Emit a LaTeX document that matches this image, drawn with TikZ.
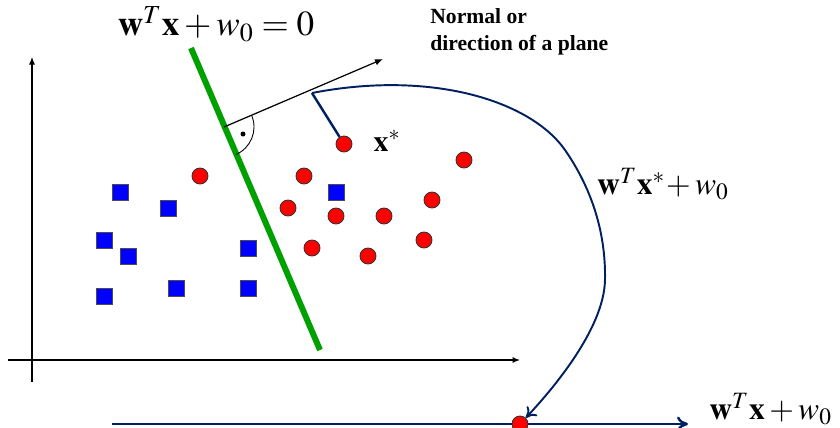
\documentclass[tikz,border=0pt]{standalone}
\usepackage{mathptmx}
\usepackage{fontspec}
\setmainfont{Liberation Serif}[BoldFont={Liberation Serif Bold}]
\usepackage{tikz}
\usetikzlibrary{arrows.meta}
\definecolor{sepgreen}{HTML}{00A000}
\definecolor{navyline}{HTML}{002060}
\definecolor{ptred}{HTML}{FF0000}
\definecolor{ptblue}{HTML}{0000FF}

\begin{document}
\begin{tikzpicture}[x=0.02cm, y=-0.02cm,
  rdot/.style={circle, draw=black!80, fill=ptred, line width=0.5pt, minimum size=0.32cm, inner sep=0pt},
  bsq/.style={rectangle, draw=black!70, fill=ptblue, line width=0.5pt, minimum size=0.32cm, inner sep=0pt},
  axis/.style={line width=0.6pt, -{Latex[length=1.5mm, width=1.2mm]}},
  navy/.style={draw=navyline, line width=1.4pt},
  eqn/.style={inner sep=0pt}]
\useasboundingbox (0,0) rectangle (840,427);
% axes
\coordinate (xa) at (8,360);
\coordinate (xb) at (520,360);
\coordinate (ya) at (32,382);
\coordinate (yb) at (32,57);
\draw[axis] (xa) -- (xb);
\draw[axis] (ya) -- (yb);
% separating plane
\coordinate (gtop) at (191,48);
\coordinate (gbot) at (320,350);
\draw[sepgreen, line width=3.4pt] (gtop) -- (gbot);
% normal
\coordinate (foot) at (224,127);
\coordinate (ntip) at (383,59);
\draw[line width=0.7pt, -{Latex[length=1.6mm, width=1.3mm]}] (foot) -- (ntip);
\draw[line width=0.5pt] (foot) ++(-22.9:30) arc[start angle=-22.9, end angle=66.9, radius=30];
\fill (243,134) circle (0.05cm);
% class 1
\node[bsq] (b1) at (120,192) {};
\node[bsq] (b2) at (168,208) {};
\node[bsq] (b3) at (104,240) {};
\node[bsq] (b4) at (128,256) {};
\node[bsq] (b5) at (104,296) {};
\node[bsq] (b6) at (176,288) {};
\node[bsq] (b7) at (248,248) {};
\node[bsq] (b8) at (248,288) {};
\node[bsq] (b9) at (336,192) {};
% class 2
\node[rdot] (r1) at (200,176) {};
\node[rdot] (r2) at (304,176) {};
\node[rdot] (r3) at (288,208) {};
\node[rdot] (r4) at (336,216) {};
\node[rdot] (r5) at (384,216) {};
\node[rdot] (r6) at (432,200) {};
\node[rdot] (r7) at (464,160) {};
\node[rdot] (r8) at (312,248) {};
\node[rdot] (r9) at (368,256) {};
\node[rdot] (r10) at (424,240) {};
% projection line
\coordinate (lstart) at (112,424);
\coordinate (lend) at (688,424);
\draw[navy, -{To[length=2.2mm, width=3mm]}] (lstart) -- (lend);
\node[rdot] (proj) at (520,424) {};
% x* and its mapping
\coordinate (bend) at (312,93);
\node[rdot] (xs) at (344,144) {};
\draw[navy] (xs) -- (bend);
\draw[navy, line width=1.1pt, -{To[length=2mm, width=2.8mm]}] (bend) .. controls (430,70) and (530,100) .. (565,150)
  .. controls (590,186) and (606,230) .. (605,280)
  .. controls (604,330) and (550,392) .. (proj);
% labels
\node[eqn] (plane) at (216,24) {\fontsize{20}{24}\selectfont $\mathbf{w}^{T}\mathbf{x}+w_{0}=0$};
\node[eqn, anchor=north west, align=left, font=\fontsize{12.3}{15.5}\selectfont\bfseries] (normal) at (430,8) {Normal or\\direction of a plane};
\node[eqn] (xlab) at (387,141) {\fontsize{17}{20}\selectfont $\mathbf{x}^{*}$};
\node[eqn] (score) at (663,184) {\fontsize{18}{21}\selectfont $\mathbf{w}^{T}\mathbf{x}^{*}\!+w_{0}$};
\node[eqn, anchor=west] (proj lab) at (709,409) {\fontsize{18}{21}\selectfont $\mathbf{w}^{T}\mathbf{x}+w_{0}$};
\end{tikzpicture}
\end{document}
